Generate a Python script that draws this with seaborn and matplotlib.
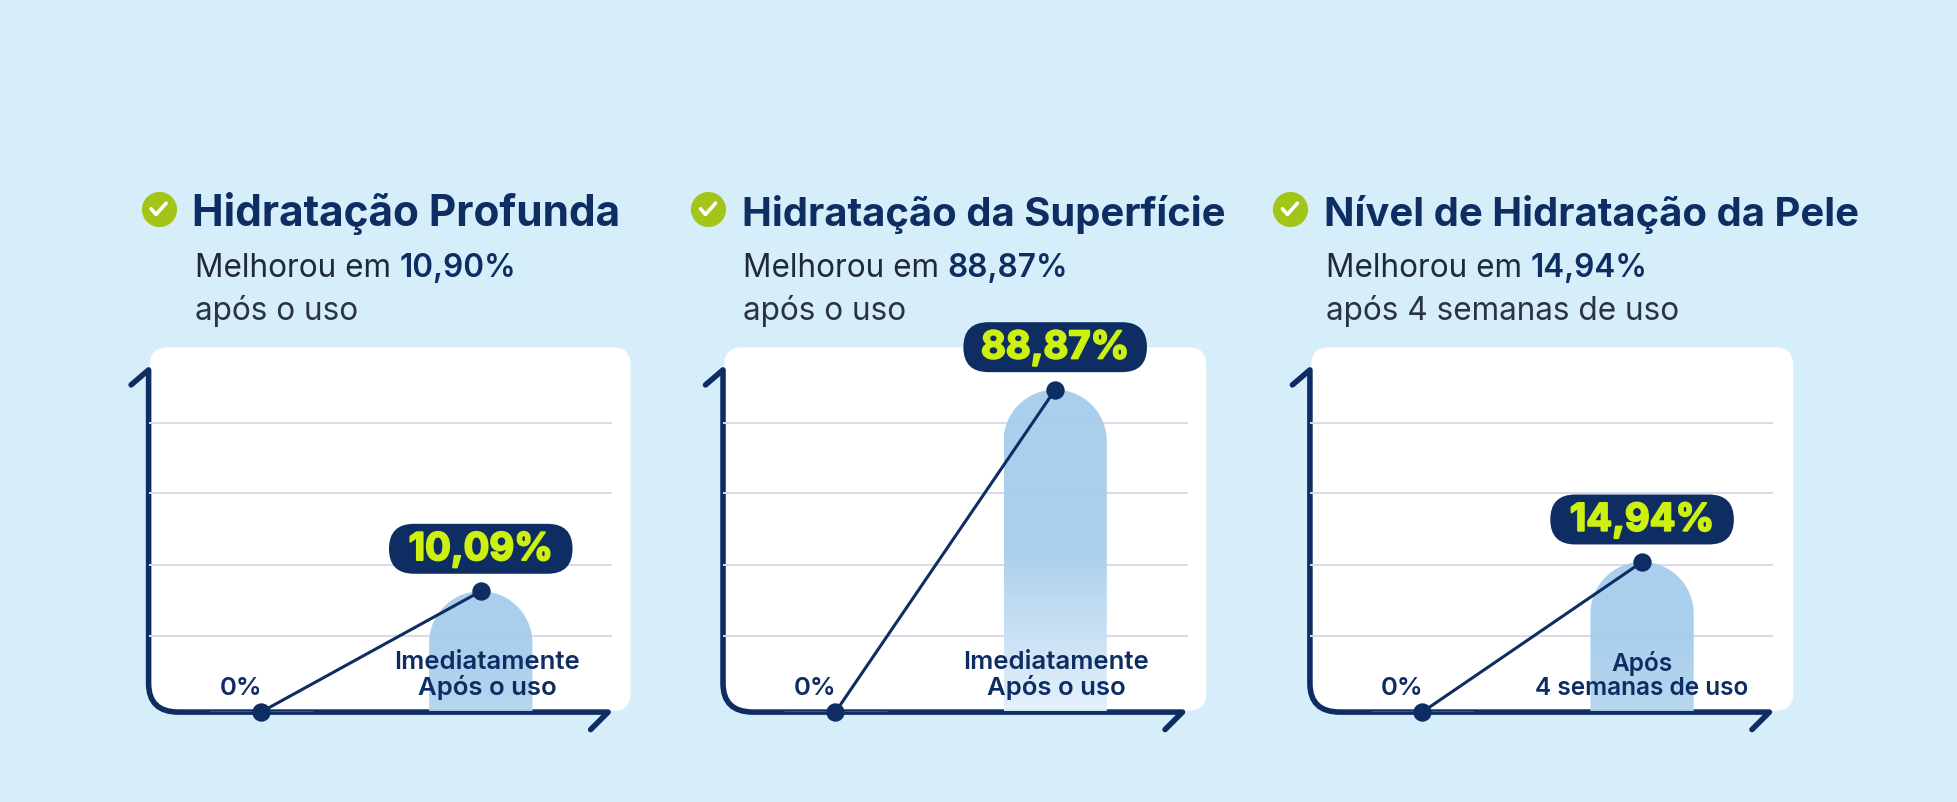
import numpy as np
import pandas as pd
import seaborn as sns
import matplotlib.pyplot as plt
from matplotlib.colors import LinearSegmentedColormap
from matplotlib.patches import FancyBboxPatch, PathPatch, Polygon
from matplotlib.path import Path
import matplotlib.patheffects as pe

# chart values
titles = ["Hidratação Profunda", "Hidratação da Superfície", "Nível de Hidratação da Pele"]
sub_values = ["10,90%", "88,87%", "14,94%"]
sub_tails = ["após o uso", "após o uso", "após 4 semanas de uso"]
value_labels = ["10,09%", "88,87%", "14,94%"]
time_labels = ["Imediatamente\nApós o uso", "Imediatamente\nApós o uso", "Após\n4 semanas de uso"]
start_label = "0%"
# the drawn heights are not to scale with the labels, so they are read in grid steps
bar_levels = [1.69, 4.51, 2.10]
grid_levels = [1.066, 2.06, 3.06, 4.05]

# layout, in pixels of a 1568x643 page
W, H = 1568, 643
axis_x = [119, 579, 1049]
grid_right = [490, 951, 1420]
card_x = [(120, 505), (580, 966), (1050, 1436)]
label_shift = [5, 1, 0]
label_sizes = [18.5, 18.5, 17.6]
text_x = [(154, 156), (594, 595), (1060, 1062)]
icon_x = [127, 567, 1033]
title_sizes = [30.5, 28.8, 28.8]
fades = ["#b2d5ef", "#e4f1fb", "#b2d5ef"]

NAVY = "#0d2d63"
BG = "#d5eef9"

sns.set_theme(style="white")
plt.rcParams["font.family"] = ["Inter", "DejaVu Sans"]

fig = plt.figure(figsize=(19.58, 8.03), dpi=100, facecolor=BG)


def page_axes(z):
    a = fig.add_axes([0, 0, 1, 1], zorder=z)
    a.set_xlim(0, W)
    a.set_ylim(H, 0)
    a.axis("off")
    return a


back = page_axes(0)
page = page_axes(2)

renderer = fig.canvas.get_renderer()

for i in range(3):
    x0 = axis_x[i]

    # white card and the hand drawn axis arrows
    cl, cr = card_x[i]
    back.add_patch(FancyBboxPatch((cl + 14, 279 + 14), cr - cl - 28, 291 - 28,
                                  boxstyle="round,pad=14,rounding_size=14", fc="white", ec="none"))
    verts = [(x0 - 14, 309), (x0, 297), (x0, 548), (x0, 571), (x0 + 24, 571),
             (x0 + 368, 571), (x0 + 354, 585)]
    codes = [Path.MOVETO, Path.LINETO, Path.LINETO, Path.CURVE3, Path.CURVE3, Path.LINETO, Path.LINETO]
    back.add_patch(PathPatch(Path(verts, codes), fc="none", ec=NAVY, lw=4, capstyle="round", joinstyle="round"))

    df = pd.DataFrame({"momento": [start_label, time_labels[i]], "nivel": [0, bar_levels[i]]})

    ax = fig.add_axes([x0 / W, 1 - 571 / H, (grid_right[i] - x0) / W, 274 / H], zorder=1)
    ax.patch.set_alpha(0)
    sns.barplot(data=df, x="momento", y="nivel", width=0.47, color="#a6cdec", ax=ax)
    sns.lineplot(data=df, x="momento", y="nivel", color=NAVY, lw=2.2, sort=False, errorbar=None, ax=ax)
    sns.scatterplot(data=df, x="momento", y="nivel", color=NAVY, s=175, linewidth=0, clip_on=False, zorder=5, ax=ax)

    xmin = (x0 - (x0 + 90)) / 176
    xmax = (grid_right[i] - (x0 + 90)) / 176
    ymax = 274 / 57.25
    ax.set_xlim(xmin, xmax)
    ax.set_ylim(0, ymax)
    ax.set_yticks(grid_levels)
    ax.set_yticklabels([])
    ax.set_xticks([])
    ax.set_xlabel("")
    ax.set_ylabel("")
    ax.tick_params(length=0)
    ax.grid(axis="y", color="#dbd8ea", lw=1.4)
    ax.set_axisbelow(True)
    sns.despine(ax=ax, left=True, bottom=True)

    # swap the flat bar for a dome topped one with a vertical fade
    bar = ax.patches[-1]
    bx, bw, bh = bar.get_x(), bar.get_width(), bar.get_height()
    bar.set_visible(False)
    rx = bw / 2
    ry = rx * 176 / 57.25
    t = np.linspace(0, np.pi, 60)
    dome = np.column_stack([bx + rx + rx * np.cos(t), bh - ry + ry * np.sin(t)])
    outline = np.vstack([[bx + bw, 0.015], dome, [bx, 0.015]])
    cmap = LinearSegmentedColormap.from_list("bar", [fades[i], "#a6cdec", "#a6cdec"])
    im = ax.imshow(np.linspace(1, 0, 128).reshape(-1, 1), cmap=cmap, extent=(bx, bx + bw, 0, bh),
                   aspect="auto", zorder=1.5, alpha=0.95)
    im.set_clip_path(Polygon(outline, transform=ax.transData))
    ax.set_xlim(xmin, xmax)
    ax.set_ylim(0, ymax)

    # value pill above the top point
    px, py = page.transData.inverted().transform(ax.transData.transform((1, bh)))
    page.add_patch(FancyBboxPatch((px - 73.5, py - 54), 147, 40,
                                  boxstyle="round,pad=0,rounding_size=20", fc=NAVY, ec="none"))
    page.text(px, py - 33, value_labels[i], color="#cdf00f", fontsize=27.5, fontweight="bold",
              ha="center", va="center", path_effects=[pe.withStroke(linewidth=1.4, foreground="#cdf00f")])

    # labels on the bars
    page.text(x0 + 74, 551, start_label, color=NAVY, fontsize=18.5, fontweight="semibold", ha="center", va="center")
    page.text(px + label_shift[i], 541, time_labels[i], color=NAVY, fontsize=label_sizes[i], fontweight="semibold",
              ha="center", va="center", linespacing=1.05)

    # heading block
    tx, sx = text_x[i]
    page.text(tx, 181, titles[i], color=NAVY, fontsize=title_sizes[i], fontweight="bold", va="baseline")
    lead = page.text(sx, 222, "Melhorou em ", color="#1f2a36", fontsize=22.7, va="baseline")
    lead_w = lead.get_window_extent(renderer).width * W / 1958
    page.text(sx + lead_w, 222, sub_values[i], color=NAVY, fontsize=22.7, fontweight="semibold", va="baseline")
    page.text(sx, 256, sub_tails[i], color="#2a3440", fontsize=22.7, va="baseline")

    # check icon
    ix = icon_x[i]
    page.scatter([ix], [168], s=640, color="#a3c517", linewidth=0)
    page.plot([ix - 6, ix - 2, ix + 6], [168, 172.5, 163.5], color="white", lw=2.6,
              solid_capstyle="round", solid_joinstyle="round")

page.set_xlim(0, W)
page.set_ylim(H, 0)

fig.savefig("out.png", dpi=100, facecolor=BG)
